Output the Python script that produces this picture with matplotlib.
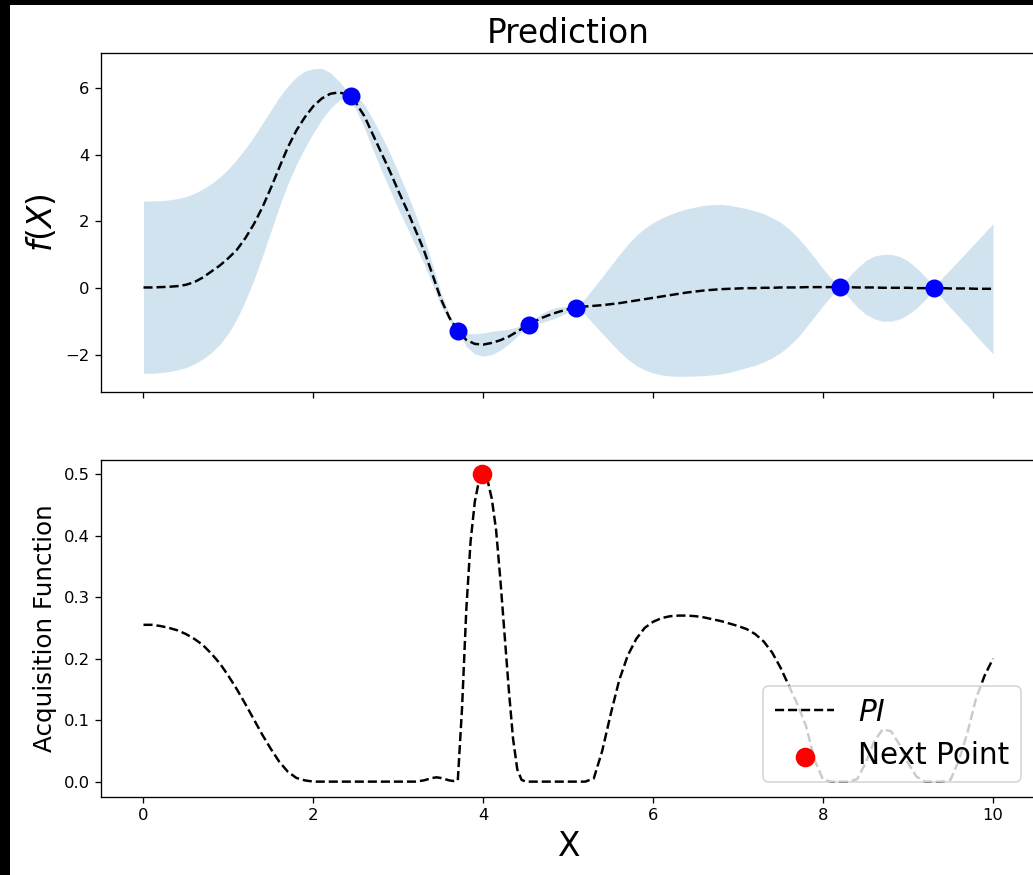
import matplotlib
matplotlib.use("Agg")
import matplotlib.pyplot as plt
from matplotlib.patches import Rectangle
import numpy as np

# GP posterior on x = 0, 0.1, ..., 10: mean, distance to upper / lower edge of band
gp_x = np.round(np.arange(0, 10.001, 0.1), 1)
gp_mean = [0.02, 0.02, 0.03, 0.04, 0.06, 0.10, 0.18, 0.32, 0.50, 0.68,
           0.90, 1.15, 1.50, 1.92, 2.42, 3.00, 3.62, 4.22, 4.72, 5.12,
           5.45, 5.68, 5.82, 5.86, 5.80, 5.55, 5.15, 4.60, 4.05, 3.50,
           2.91, 2.35, 1.75, 1.14, 0.42, -0.32, -0.88, -1.27, -1.55, -1.67,
           -1.69, -1.64, -1.56, -1.45, -1.30, -1.14, -1.00, -0.88, -0.78, -0.70,
           -0.63, -0.58, -0.55, -0.53, -0.51, -0.48, -0.45, -0.41, -0.37, -0.33,
           -0.29, -0.25, -0.21, -0.17, -0.13, -0.10, -0.07, -0.05, -0.03, -0.02,
           -0.01, 0.0, 0.0, 0.01, 0.01, 0.02, 0.02, 0.02, 0.03, 0.03,
           0.03, 0.03, 0.03, 0.03, 0.02, 0.02, 0.02, 0.01, 0.01, 0.01,
           0.01, 0.0, 0.0, 0.0, 0.0, -0.01, -0.01, -0.01, -0.02, -0.02,
           -0.02]
gp_up = [2.59, 2.59, 2.59, 2.60, 2.62, 2.64, 2.66, 2.65, 2.63, 2.65,
         2.67, 2.71, 2.68, 2.62, 2.51, 2.33, 2.10, 1.83, 1.60, 1.38,
         1.12, 0.90, 0.63, 0.34, 0.10, 0.20, 0.35, 0.45, 0.52, 0.55,
         0.55, 0.52, 0.47, 0.40, 0.30, 0.20, 0.10, 0.02, 0.20, 0.30,
         0.35, 0.35, 0.30, 0.22, 0.14, 0.05, 0.08, 0.14, 0.16, 0.14,
         0.08, 0.03, 0.25, 0.55, 0.85, 1.15, 1.45, 1.72, 1.95, 2.12,
         2.25, 2.35, 2.42, 2.47, 2.51, 2.53, 2.55, 2.55, 2.54, 2.50,
         2.44, 2.38, 2.31, 2.22, 2.10, 1.95, 1.75, 1.50, 1.20, 0.88,
         0.55, 0.25, 0.03, 0.30, 0.58, 0.80, 0.94, 1.00, 1.00, 0.94,
         0.80, 0.60, 0.35, 0.05, 0.30, 0.58, 0.85, 1.12, 1.40, 1.68,
         1.95]
gp_down = [2.57, 2.57, 2.56, 2.54, 2.51, 2.48, 2.45, 2.44, 2.43, 2.36,
           2.25, 2.07, 1.88, 1.67, 1.47, 1.30, 1.17, 1.10, 1.02, 0.92,
           0.80, 0.63, 0.44, 0.24, 0.08, 0.20, 0.35, 0.45, 0.52, 0.55,
           0.55, 0.52, 0.47, 0.40, 0.30, 0.20, 0.10, 0.02, 0.20, 0.30,
           0.35, 0.35, 0.30, 0.22, 0.14, 0.05, 0.08, 0.14, 0.16, 0.14,
           0.08, 0.03, 0.25, 0.55, 0.85, 1.15, 1.45, 1.72, 1.95, 2.12,
           2.25, 2.35, 2.42, 2.47, 2.51, 2.53, 2.55, 2.55, 2.54, 2.50,
           2.44, 2.38, 2.31, 2.22, 2.10, 1.95, 1.75, 1.50, 1.20, 0.88,
           0.55, 0.25, 0.03, 0.30, 0.58, 0.80, 0.94, 1.00, 1.00, 0.94,
           0.80, 0.60, 0.35, 0.05, 0.30, 0.58, 0.85, 1.12, 1.40, 1.68,
           1.95]

# observed samples
obs_x = [2.44, 3.70, 4.54, 5.09, 8.20, 9.31]
obs_y = [5.75, -1.27, -1.09, -0.58, 0.03, 0.0]

# probability of improvement
pi_x = [0.0, 0.1, 0.2, 0.3, 0.4, 0.5, 0.6, 0.7, 0.8, 0.9,
        1.0, 1.1, 1.2, 1.3, 1.4, 1.5, 1.6, 1.7, 1.8, 1.9,
        2.0, 2.5, 3.0, 3.2, 3.3, 3.4, 3.45, 3.5, 3.6, 3.65,
        3.7, 3.75, 3.8, 3.85, 3.9, 3.95, 4.0, 4.05, 4.1, 4.15,
        4.2, 4.25, 4.3, 4.35, 4.4, 4.45, 4.5, 5.0, 5.2, 5.3,
        5.4, 5.5, 5.6, 5.7, 5.8, 5.9, 6.0, 6.1, 6.2, 6.3,
        6.4, 6.5, 6.6, 6.7, 6.8, 6.9, 7.0, 7.1, 7.2, 7.3,
        7.4, 7.5, 7.6, 7.7, 7.8, 7.9, 8.0, 8.1, 8.2, 8.3,
        8.4, 8.5, 8.6, 8.7, 8.8, 8.9, 9.0, 9.1, 9.2, 9.3,
        9.4, 9.5, 9.6, 9.7, 9.8, 9.9, 10.0]
pi_val = [0.255, 0.255, 0.253, 0.250, 0.246, 0.240, 0.232, 0.222, 0.208, 0.192,
          0.172, 0.150, 0.126, 0.101, 0.076, 0.053, 0.032, 0.016, 0.006, 0.002,
          0.0, 0.0, 0.0, 0.0, 0.002, 0.006, 0.007, 0.006, 0.002, 0.001,
          0.002, 0.12, 0.28, 0.39, 0.455, 0.49, 0.5, 0.49, 0.46, 0.41,
          0.33, 0.24, 0.15, 0.07, 0.02, 0.003, 0.0, 0.0, 0.0, 0.005,
          0.05, 0.11, 0.165, 0.205, 0.232, 0.25, 0.26, 0.266, 0.269, 0.27,
          0.27, 0.269, 0.267, 0.264, 0.261, 0.257, 0.253, 0.248, 0.24, 0.228,
          0.21, 0.185, 0.155, 0.125, 0.09, 0.035, 0.003, 0.0, 0.0, 0.0,
          0.004, 0.03, 0.065, 0.085, 0.082, 0.06, 0.03, 0.008, 0.0, 0.0,
          0.0, 0.003, 0.035, 0.08, 0.135, 0.172, 0.2]

next_x = 3.99
next_y = 0.5

W, H, DPI = 1033, 875, 118
fig = plt.figure(figsize=(W / DPI, H / DPI), dpi=DPI, facecolor="black")
fig.patches.append(Rectangle((10 / W, 0), 1, 1 - 5 / H, transform=fig.transFigure,
                             facecolor="white", edgecolor="none", zorder=-10))

left, width = 101 / W, 934.5 / W
ax1 = fig.add_axes([left, (H - 392) / H, width, 339 / H])
ax2 = fig.add_axes([left, (H - 797) / H, width, 337 / H], sharex=ax1)

mean = np.array(gp_mean)
ax1.fill_between(gp_x, mean - np.array(gp_down), mean + np.array(gp_up),
                 color="C0", alpha=0.2, linewidth=0)
ax1.plot(gp_x, mean, "k--", linewidth=1.5)
ax1.scatter(obs_x, obs_y, s=100, color="blue", zorder=3)
ax1.set_title("Prediction", fontsize=20)
ax1.set_ylabel("$f(X)$", fontsize=20)
ax1.set_ylim(-3.11, 7.04)
ax1.set_yticks([-2, 0, 2, 4, 6])
ax1.tick_params(labelbottom=False)

ax2.plot(pi_x, pi_val, "k--", linewidth=1.5, label="$PI$")
ax2.scatter([next_x], [next_y], s=120, color="red", zorder=3, label="Next Point")
ax2.set_xlim(-0.5, 10.5)
ax2.set_ylim(-0.025, 0.523)
ax2.set_xlabel("X", fontsize=20)
ax2.set_ylabel("Acquisition Function", fontsize=15)
ax2.legend(loc="lower right", fontsize=18)

fig.savefig("out.png", dpi=DPI, facecolor=fig.get_facecolor())
